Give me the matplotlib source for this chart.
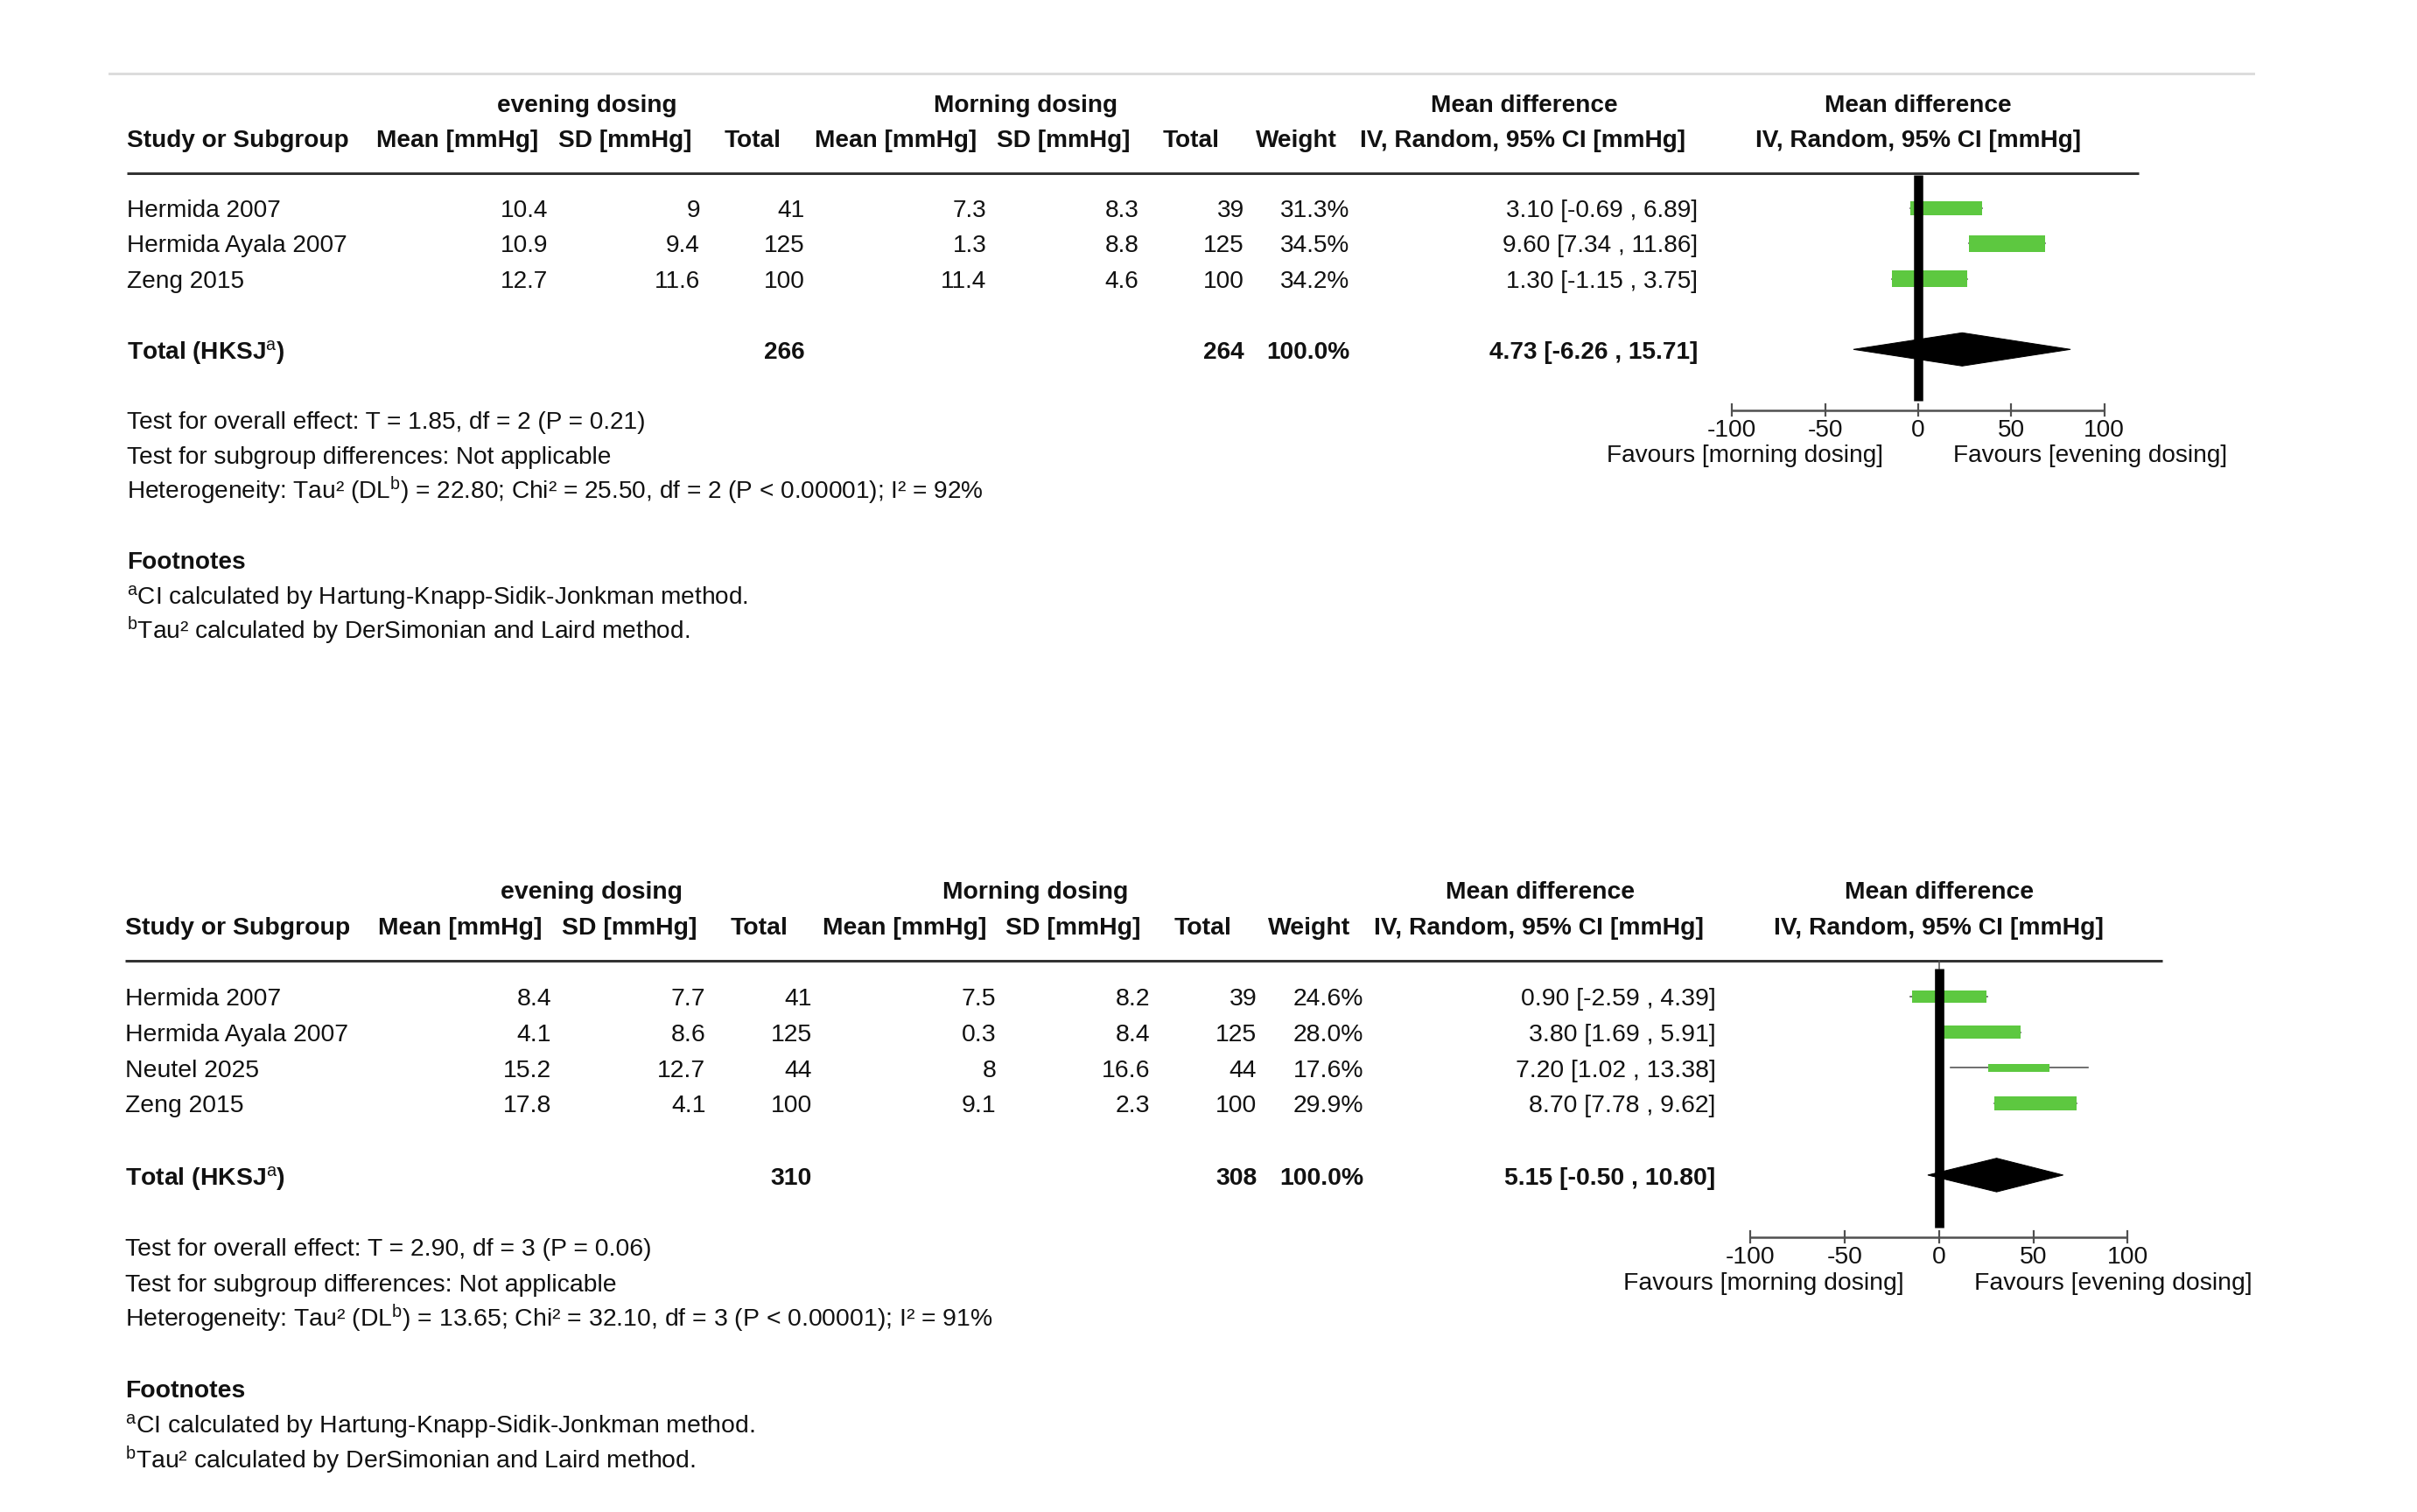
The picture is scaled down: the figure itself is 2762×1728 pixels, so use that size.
import matplotlib
matplotlib.use('Agg')
import matplotlib.pyplot as plt
from matplotlib.patches import Rectangle, Polygon

plt.rcParams['font.family'] = ['Liberation Sans', 'DejaVu Sans']
plt.rcParams['mathtext.fontset'] = 'custom'
plt.rcParams['mathtext.rm'] = 'Liberation Sans'
plt.rcParams['mathtext.bf'] = 'Liberation Sans:bold'
plt.rcParams['mathtext.it'] = 'Liberation Sans:italic'

# ---------------- data: panel 1 ----------------
p1_study = ['Hermida 2007', 'Hermida Ayala 2007', 'Zeng 2015']
p1_eve_mean = [10.4, 10.9, 12.7]
p1_eve_sd = [9, 9.4, 11.6]
p1_eve_n = [41, 125, 100]
p1_mor_mean = [7.3, 1.3, 11.4]
p1_mor_sd = [8.3, 8.8, 4.6]
p1_mor_n = [39, 125, 100]
p1_weight = [31.3, 34.5, 34.2]
p1_md = [3.10, 9.60, 1.30]
p1_md_lo = [-0.69, 7.34, -1.15]
p1_md_hi = [6.89, 11.86, 3.75]
p1_total = dict(eve_n=266, mor_n=264, weight=100.0, md=4.73, lo=-6.26, hi=15.71)
# positions of the marks as drawn on the forest scale
p1_box_lo = [-4.2, 27.3, -13.9]
p1_box_hi = [34.4, 68.0, 26.1]
p1_ci_lo = [-4.2, 27.3, -13.9]
p1_ci_hi = [34.4, 68.0, 26.1]
p1_diamond = [-34.8, 23.6, 81.8]
p1_foot = ['Test for overall effect: T = 1.85, df = 2 (P = 0.21)',
           'Test for subgroup differences: Not applicable',
           r'Heterogeneity: Tau² (DL$^{\mathrm{b}}$) = 22.80; Chi² = 25.50, df = 2 (P < 0.00001); I² = 92%']

# ---------------- data: panel 2 ----------------
p2_study = ['Hermida 2007', 'Hermida Ayala 2007', 'Neutel 2025', 'Zeng 2015']
p2_eve_mean = [8.4, 4.1, 15.2, 17.8]
p2_eve_sd = [7.7, 8.6, 12.7, 4.1]
p2_eve_n = [41, 125, 44, 100]
p2_mor_mean = [7.5, 0.3, 8, 9.1]
p2_mor_sd = [8.2, 8.4, 16.6, 2.3]
p2_mor_n = [39, 125, 44, 100]
p2_weight = [24.6, 28.0, 17.6, 29.9]
p2_md = [0.90, 3.80, 7.20, 8.70]
p2_md_lo = [-2.59, 1.69, 1.02, 7.78]
p2_md_hi = [4.39, 5.91, 13.38, 9.62]
p2_total = dict(eve_n=310, mor_n=308, weight=100.0, md=5.15, lo=-0.50, hi=10.80)
p2_box_lo = [-14.3, 0.5, 26.1, 29.4]
p2_box_hi = [24.9, 43.3, 58.6, 73.0]
p2_ci_lo = [-15.2, 0.5, 6.3, 29.4]
p2_ci_hi = [25.6, 43.3, 78.8, 73.0]
p2_diamond = [-6.0, 30.5, 65.8]
p2_foot = ['Test for overall effect: T = 2.90, df = 3 (P = 0.06)',
           'Test for subgroup differences: Not applicable',
           r'Heterogeneity: Tau² (DL$^{\mathrm{b}}$) = 13.65; Chi² = 32.10, df = 3 (P < 0.00001); I² = 91%']

footnotes = [r'$^{\mathrm{a}}$CI calculated by Hartung-Knapp-Sidik-Jonkman method.',
             r'$^{\mathrm{b}}$Tau² calculated by DerSimonian and Laird method.']
ticks = [-100, -50, 0, 50, 100]
fav_left = 'Favours [morning dosing]'
fav_right = 'Favours [evening dosing]'

# ---------------- figure ----------------
W, H = 2762, 1728
DPI = 100
fig = plt.figure(figsize=(W / DPI, H / DPI), dpi=DPI)
fig.patch.set_facecolor('white')
bg = fig.add_axes([0, 0, 1, 1])
bg.set_xlim(0, W)
bg.set_ylim(H, 0)
bg.axis('off')

def pt(px):
    return px * 72.0 / DPI

FS = pt(28)
TXT = '#111111'
GREEN = '#5dc840'
AXC = '#505050'
BASE = 8  # baseline offset below visual text centre (px)


def draw_panel(study, em, esd, en, mm, msd, mn, wt, md, lo, hi, tot,
               box_lo, box_hi, ci_lo, ci_hi, dia, foot, x0, ysep, s, connector):
    X = lambda dx: x0 + s * dx
    Y = lambda dy: ysep + s * dy
    f = FS * s

    def t(dx, dy, txt, ha='left', bold=False):
        bg.text(X(dx), Y(dy) + BASE * s, txt, ha=ha, va='baseline', fontsize=f,
                fontweight='bold' if bold else 'normal', color=TXT)

    # group headers
    t(526.3, -78, 'evening dosing', 'center', True)
    t(1027.3, -78, 'Morning dosing', 'center', True)
    t(1597.3, -78, 'Mean difference', 'center', True)
    t(2047.3, -78, 'Mean difference', 'center', True)
    # column headers
    t(0, -38, 'Study or Subgroup', 'left', True)
    for cx, lab in [(378.3, 'Mean [mmHg]'), (569.3, 'SD [mmHg]'), (715.3, 'Total'),
                    (879.3, 'Mean [mmHg]'), (1070.3, 'SD [mmHg]'), (1216.3, 'Total'),
                    (1336.3, 'Weight'), (1595.3, 'IV, Random, 95% CI [mmHg]'),
                    (2047.3, 'IV, Random, 95% CI [mmHg]')]:
        t(cx, -38, lab, 'center', True)
    # separator
    bg.plot([X(0), X(2299.3)], [ysep, ysep], color='#333333', lw=pt(3), solid_capstyle='butt')

    rows = [42 + i * 40.3 for i in range(len(study))]
    tot_dy = rows[-1] + 81.7
    for i, dy in enumerate(rows):
        t(0, dy, study[i])
        t(481.3, dy, f'{em[i]:g}', 'right')
        t(655.3, dy, f'{esd[i]:g}', 'right')
        t(775.3, dy, f'{en[i]}', 'right')
        t(983.0, dy, f'{mm[i]:g}', 'right')
        t(1156.9, dy, f'{msd[i]:g}', 'right')
        t(1277.3, dy, f'{mn[i]}', 'right')
        t(1397.8, dy, f'{wt[i]:.1f}%', 'right')
        t(1795.3, dy, f'{md[i]:.2f} [{lo[i]:.2f} , {hi[i]:.2f}]', 'right')
    t(0, tot_dy, r'Total (HKSJ$^{\mathrm{a}}$)', 'left', True)
    t(775.3, tot_dy, f"{tot['eve_n']}", 'right', True)
    t(1277.3, tot_dy, f"{tot['mor_n']}", 'right', True)
    t(1397.8, tot_dy, f"{tot['weight']:.1f}%", 'right', True)
    t(1795.3, tot_dy, f"{tot['md']:.2f} [{tot['lo']:.2f} , {tot['hi']:.2f}]", 'right', True)

    fy = tot_dy + 80
    for j, line in enumerate(foot):
        t(0, fy + 40 * j, line)
    t(0, fy + 160, 'Footnotes', 'left', True)
    for j, line in enumerate(footnotes):
        t(0, fy + 200 + 40 * j, line)

    # ---------- forest plot ----------
    zero_px = X(2047.3)
    ppu = 2.128 * s
    xl, xr = X(1760), X(2470)
    yt, yb = ysep - 10, Y(tot_dy + 140)
    ax = fig.add_axes([xl / W, 1 - yb / H, (xr - xl) / W, (yb - yt) / H])
    ax.set_xlim((xl - zero_px) / ppu, (xr - zero_px) / ppu)
    ax.set_ylim(yb, yt)
    ax.axis('off')
    ax.patch.set_alpha(0)

    for i, dy in enumerate(rows):
        yc = Y(dy) - 2 * s
        ax.plot([ci_lo[i], ci_hi[i]], [yc, yc], color=AXC, lw=pt(1.6), zorder=2)
        h = 0.54 * wt[i] * s
        ax.add_patch(Rectangle((box_lo[i], yc - h / 2), box_hi[i] - box_lo[i], h,
                               facecolor=GREEN, edgecolor='none', zorder=3))
    yd = Y(tot_dy) - 3 * s
    hd = 19 * s
    ax.add_patch(Polygon([(dia[0], yd), (dia[1], yd - hd), (dia[2], yd), (dia[1], yd + hd)],
                         closed=True, facecolor='black', edgecolor='black', lw=pt(1), zorder=4))
    # line of no effect
    y_start = ysep + (9 if connector else 2)
    if connector:
        ax.plot([0, 0], [ysep, y_start], color=AXC, lw=pt(1.5), zorder=5)
    ax.plot([0, 0], [y_start, Y(tot_dy + 56)], color='black', lw=pt(10.5 * s),
            solid_capstyle='butt', zorder=5)
    # axis
    ya = Y(tot_dy + 67)
    ax.plot([ticks[0], ticks[-1]], [ya, ya], color=AXC, lw=pt(2.5), solid_capstyle='butt')
    for tk in ticks:
        ax.plot([tk, tk], [ya - 7 * s, ya + 6 * s], color=AXC, lw=pt(2.2))
        ax.text(tk, Y(tot_dy + 89) + BASE * s, f'{tk}', ha='center', va='baseline',
                fontsize=f, color=TXT)
    off = 40 / 2.128
    yf = Y(tot_dy + 118) + BASE * s
    ax.text(-off, yf, fav_left, ha='right', va='baseline', fontsize=f, color=TXT)
    ax.text(off, yf, fav_right, ha='left', va='baseline', fontsize=f, color=TXT)


# top rule of first panel
bg.plot([125, 2575], [84, 84], color='#dcdcdc', lw=pt(3))

draw_panel(p1_study, p1_eve_mean, p1_eve_sd, p1_eve_n, p1_mor_mean, p1_mor_sd, p1_mor_n,
           p1_weight, p1_md, p1_md_lo, p1_md_hi, p1_total, p1_box_lo, p1_box_hi,
           p1_ci_lo, p1_ci_hi, p1_diamond, p1_foot, x0=144.7, ysep=198.0, s=1.0, connector=False)
draw_panel(p2_study, p2_eve_mean, p2_eve_sd, p2_eve_n, p2_mor_mean, p2_mor_sd, p2_mor_n,
           p2_weight, p2_md, p2_md_lo, p2_md_hi, p2_total, p2_box_lo, p2_box_hi,
           p2_ci_lo, p2_ci_hi, p2_diamond, p2_foot, x0=143.0, ysep=1098.3, s=1.0125, connector=True)

fig.savefig('out.png', dpi=DPI, facecolor='white')
